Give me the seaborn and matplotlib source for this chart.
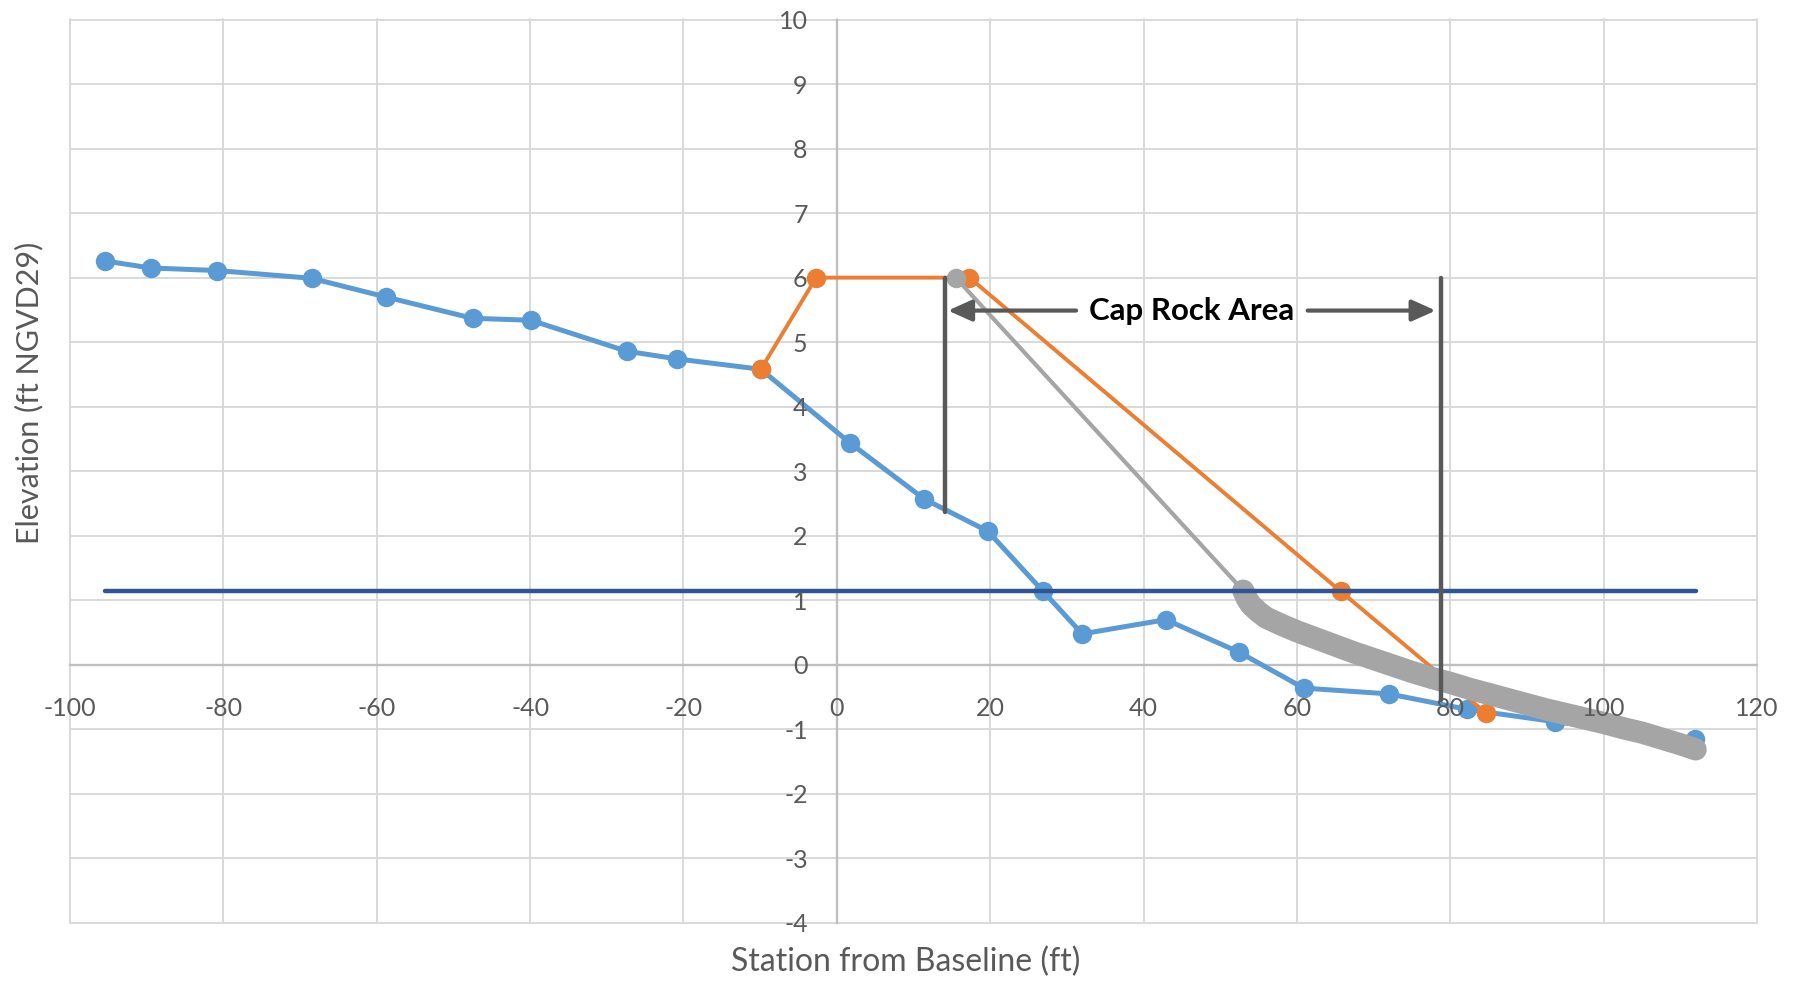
import numpy as np
import pandas as pd
import seaborn as sns
import matplotlib.pyplot as plt

# profile data (station ft, elevation ft NGVD29)
survey_x = [-95.5, -89.5, -80.8, -68.5, -58.8, -47.5, -39.9, -27.4, -20.8, -9.9,
            1.7, 11.4, 19.7, 26.9, 32.0, 42.9, 52.4, 60.9, 72.0, 82.2, 93.6, 111.9]
survey_y = [6.26, 6.15, 6.11, 5.99, 5.70, 5.37, 5.34, 4.86, 4.74, 4.58,
            3.44, 2.57, 2.07, 1.14, 0.48, 0.70, 0.20, -0.36, -0.45, -0.69, -0.88, -1.15]

design_x = [-9.9, -2.7, 17.3, 65.7, 84.7]
design_y = [4.58, 6.0, 6.0, 1.14, -0.75]

# equilibrated profile: crest point, then dense points below MHW
equil_x = [15.5, 53.0, 53.5, 54.0, 55.0, 56.0, 58.0, 60.0, 62.5, 65.0, 67.5, 70.0,
           72.5, 75.0, 77.5, 80.0, 82.5, 85.0, 87.5, 90.0, 92.5, 95.0, 97.5,
           100.0, 102.5, 105.0, 107.5, 110.0, 112.0]
equil_y = [6.0, 1.15, 1.02, 0.93, 0.82, 0.73, 0.62, 0.52, 0.41, 0.30, 0.19, 0.09,
           -0.01, -0.11, -0.20, -0.28, -0.37, -0.45, -0.53, -0.61, -0.69, -0.76, -0.83,
           -0.90, -0.98, -1.05, -1.14, -1.23, -1.31]

mhw_x = [-95.5, 112.0]
mhw_y = [1.15, 1.15]

cap_left = [14.1, 6.0, 2.37]
cap_right = [78.8, 6.0, -0.55]
cap_arrow_y = 5.49
cap_text = "Cap Rock Area"

x_ticks = list(range(-100, 121, 20))
y_ticks = list(range(-4, 11))

sns.set_style("white")
plt.rcParams["font.family"] = ["Lato", "DejaVu Sans"]
plt.rcParams["axes.unicode_minus"] = False

fig = plt.figure(figsize=(18.03, 9.83), dpi=100)
ax = fig.add_axes([70 / 1803, 60 / 983, 1687 / 1803, 903.5 / 983])

grid_c = "#D9D9D9"
for xv in x_ticks:
    ax.axvline(xv, color=grid_c, lw=1.4, zorder=0.5, clip_on=False)
for yv in y_ticks:
    ax.axhline(yv, color=grid_c, lw=1.4, zorder=0.5, clip_on=False)

survey = pd.DataFrame({"x": survey_x, "y": survey_y})
design = pd.DataFrame({"x": design_x, "y": design_y})

sns.lineplot(data=survey, x="x", y="y", ax=ax, color="#5B9BD5", lw=3.6,
             marker="o", ms=14, mec="#5B9BD5", mew=0, zorder=3)
sns.lineplot(data=design, x="x", y="y", ax=ax, color="#ED7D31", lw=2.8,
             marker="o", ms=14, mec="#ED7D31", mew=0, zorder=4)

gray = "#A5A5A5"
ax.plot(equil_x[:2], equil_y[:2], color=gray, lw=3, zorder=5)
ax.plot(equil_x[:2], equil_y[:2], "o", color=gray, ms=14, mew=0, zorder=5)
ax.plot(equil_x[1:], equil_y[1:], color=gray, lw=16, solid_capstyle="round",
        solid_joinstyle="round", zorder=5)

ax.plot(mhw_x, mhw_y, color="#2F5597", lw=3.2, solid_capstyle="round", zorder=6)

dark = "#595959"
ax.plot([cap_left[0], cap_left[0]], cap_left[1:], color=dark, lw=3.2, zorder=7)
ax.plot([cap_right[0], cap_right[0]], cap_right[1:], color=dark, lw=3.2, zorder=7)

arrow_kw = dict(arrowstyle="-|>,head_length=0.6,head_width=0.27", color=dark,
                lw=3, shrinkA=0, shrinkB=0, mutation_scale=24)
ax.annotate("", xy=(14.5, cap_arrow_y), xytext=(31.2, cap_arrow_y),
            arrowprops=arrow_kw, zorder=7)
ax.annotate("", xy=(78.1, cap_arrow_y), xytext=(61.4, cap_arrow_y),
            arrowprops=arrow_kw, zorder=7)
ax.text(46.3, cap_arrow_y, cap_text, ha="center", va="center", fontsize=22.5,
        fontweight="bold", color="black", zorder=8)

ax.set_xlim(-100, 120)
ax.set_ylim(-4, 10)
ax.set_xticks(x_ticks)
ax.set_yticks(y_ticks)
ax.set_xlabel("")
ax.set_ylabel("")

ax.spines["left"].set_position(("data", 0))
ax.spines["bottom"].set_position(("data", 0))
ax.spines["top"].set_visible(False)
ax.spines["right"].set_visible(False)
for s in ["left", "bottom"]:
    ax.spines[s].set_color("#BFBFBF")
    ax.spines[s].set_linewidth(1.7)
    ax.spines[s].set_zorder(1)

ax.tick_params(axis="x", length=0, pad=23, labelsize=18, labelcolor=dark)
ax.tick_params(axis="y", length=0, pad=21, labelsize=18, labelcolor=dark)
ax.xaxis.set_zorder(10)
ax.yaxis.set_zorder(10)

fig.text(906 / 1803, 1 - 961.7 / 983, "Station from Baseline (ft)", ha="center",
         va="center", fontsize=23, color=dark)
fig.text(29 / 1803, 1 - 393 / 983, "Elevation (ft NGVD29)", ha="center",
         va="center", rotation=90, fontsize=22, color=dark)

fig.savefig("out.png", dpi=100)
